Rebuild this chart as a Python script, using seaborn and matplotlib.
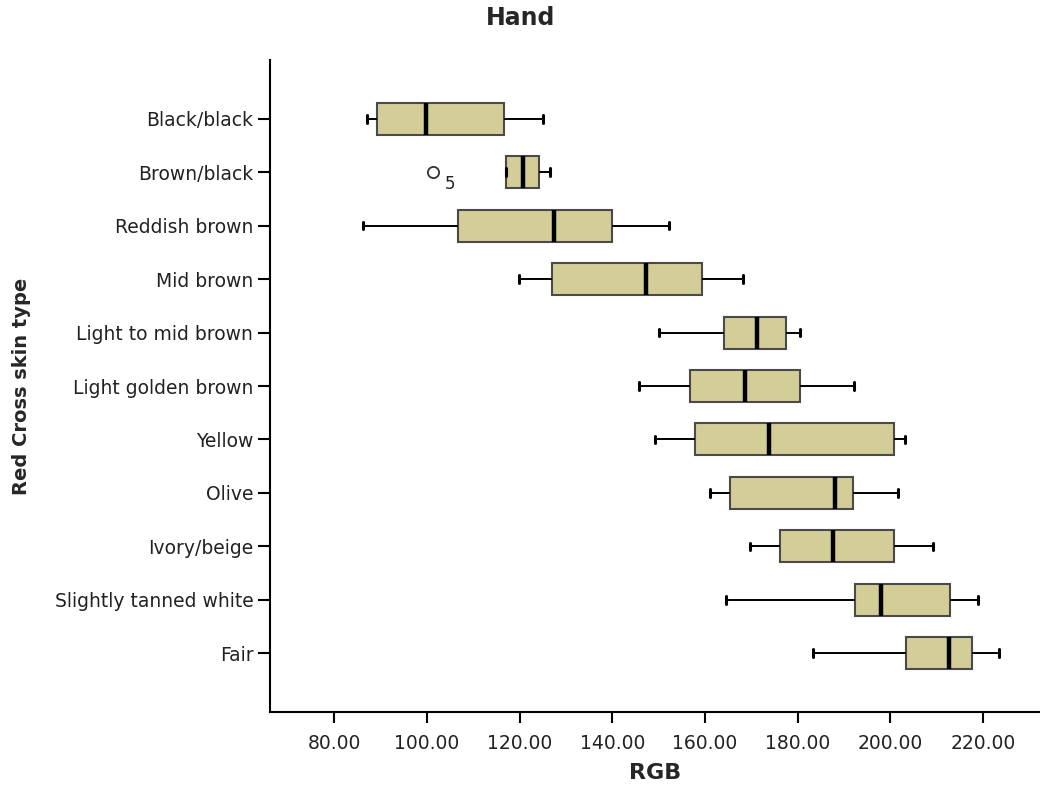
import numpy as np
import pandas as pd
import matplotlib
matplotlib.use("Agg")
import matplotlib.pyplot as plt
import seaborn as sns
from matplotlib.ticker import FixedLocator, FormatStrFormatter

# ---- data (five-number summaries) ----
categories = ["Black/black", "Brown/black", "Reddish brown", "Mid brown",
              "Light to mid brown", "Light golden brown", "Yellow", "Olive",
              "Ivory/beige", "Slightly tanned white", "Fair"]
whisker_low = [87.1, 117.0, 86.1, 119.8, 150.1, 145.8, 149.3, 161.0, 169.8, 164.6, 183.3]
q1 = [89.3, 117.0, 106.6, 127.0, 164.2, 156.8, 157.9, 165.3, 176.1, 192.3, 203.4]
median = [99.7, 120.7, 127.4, 147.3, 171.3, 168.7, 173.7, 188.0, 187.6, 198.0, 212.7]
q3 = [116.6, 124.2, 140.0, 159.4, 177.4, 180.6, 200.8, 191.9, 200.8, 212.9, 217.7]
whisker_high = [125.0, 126.6, 152.3, 168.1, 180.4, 192.1, 203.2, 201.6, 209.2, 219.0, 223.5]
outlier_category = "Brown/black"
outlier_value = 101.2
outlier_label = "5"
x_ticks = [80, 100, 120, 140, 160, 180, 200, 220]

rows = []
for c, a, b, m, d, e in zip(categories, whisker_low, q1, median, q3, whisker_high):
    for v in (a, b, m, d, e):
        rows.append({"type": c, "RGB": v})
df = pd.DataFrame(rows)

sns.set_style("ticks")
plt.rcParams["font.family"] = ["DejaVu Sans"]

W, H = 1040, 787
fig = plt.figure(figsize=(W / 100, H / 100), dpi=100)
ax_left, ax_right, ax_top, ax_bottom = 270, 1040, 60, 712
ax = fig.add_axes([ax_left / W, 1 - ax_bottom / H, (ax_right - ax_left) / W, (ax_bottom - ax_top) / H])

fill = "#D3CE97"
sns.boxplot(data=df, x="RGB", y="type", order=categories, ax=ax,
            color=fill, saturation=1, width=0.6, whis=(0, 100),
            showfliers=False, capwidths=0.14,
            boxprops=dict(facecolor=fill, edgecolor="#4a4a4a", linewidth=1.5),
            whiskerprops=dict(color="black", linewidth=1.4),
            capprops=dict(color="black", linewidth=2.2),
            medianprops=dict(color="black", linewidth=3.2))

pos = categories.index(outlier_category)
ax.scatter([outlier_value], [pos], s=65, facecolors="white", edgecolors="#333333",
           linewidths=1.3, zorder=5)
ax.annotate(outlier_label, (outlier_value, pos), xytext=(9, -12),
            textcoords="offset points", fontsize=12, color="#222222")

ax.set_xlim(66.1, 232.3)
ax.set_ylim(len(categories) - 1 + 1.1, -1.1)
ax.xaxis.set_major_locator(FixedLocator(x_ticks))
ax.xaxis.set_major_formatter(FormatStrFormatter("%.2f"))

for s in ["top", "right"]:
    ax.spines[s].set_visible(False)
for s in ["left", "bottom"]:
    ax.spines[s].set_color("black")
    ax.spines[s].set_linewidth(1.5)

ax.tick_params(axis="y", length=9, width=1.5, pad=3, labelsize=13.5, colors="black")
ax.tick_params(axis="x", length=8, width=1.5, pad=8, labelsize=13.5, colors="black")
for t in ax.get_xticklabels() + ax.get_yticklabels():
    t.set_color("#222222")

ax.set_xlabel("RGB", fontsize=16, fontweight="bold")
ax.set_ylabel("Red Cross skin type", fontsize=14, fontweight="bold")
ax.xaxis.set_label_coords(0.5, (ax_bottom - 773) / (ax_bottom - ax_top), transform=ax.transAxes)
ax.yaxis.set_label_coords((22 - ax_left) / (ax_right - ax_left), 0.5, transform=ax.transAxes)
ax.xaxis.label.set_va("center")
ax.yaxis.label.set_va("center")

fig.text(521 / W, 1 - 18 / H, "Hand", ha="center", va="center", fontsize=17, fontweight="bold")

fig.savefig("out.png", dpi=100, facecolor="white")
